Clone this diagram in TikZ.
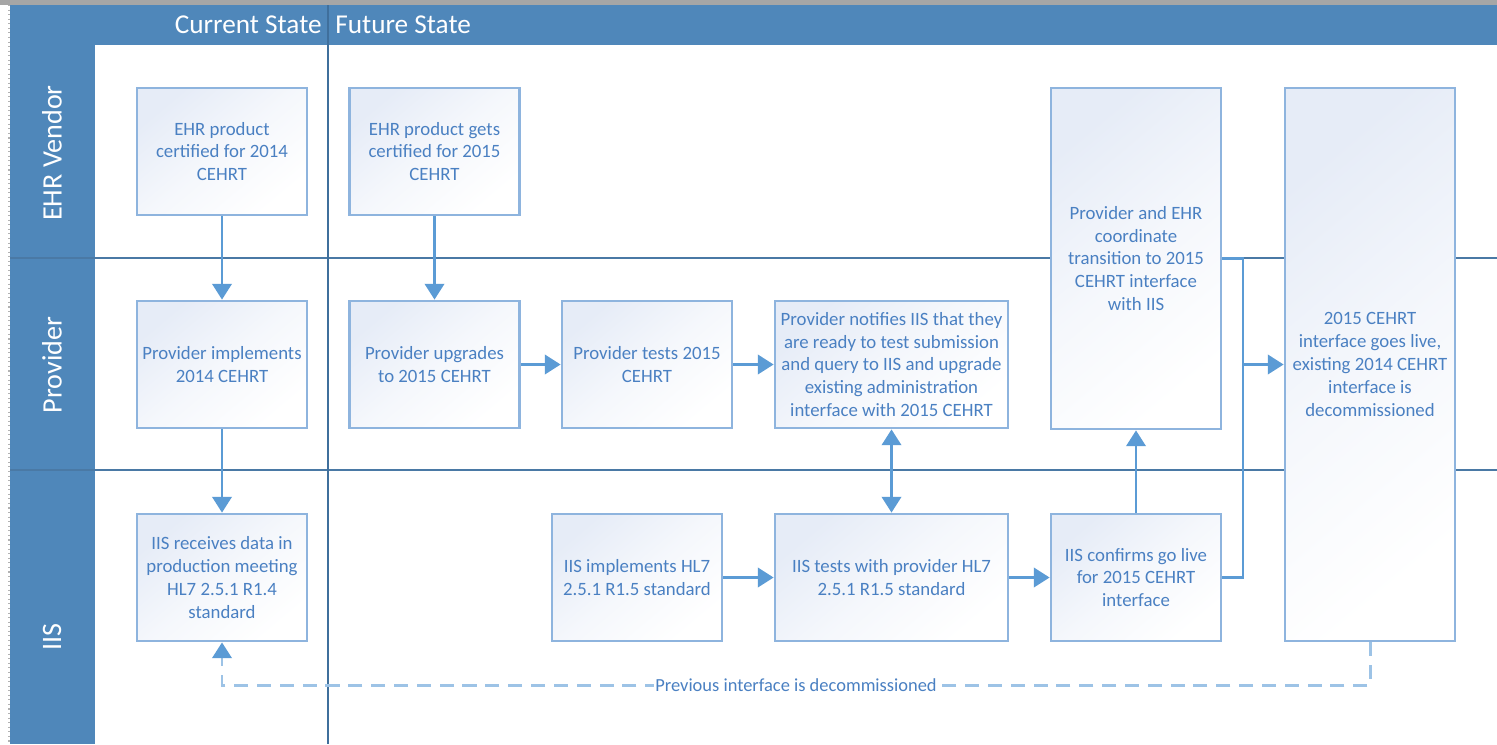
\documentclass[tikz,border=0pt]{standalone}
\usepackage{fontspec}
\setmainfont{Carlito}
\usetikzlibrary{arrows.meta}
\definecolor{headblue}{HTML}{4F87BA}
\definecolor{laneline}{HTML}{4A79A5}
\definecolor{divline}{HTML}{3F6F9C}
\definecolor{arrowblue}{HTML}{5B9BD5}
\definecolor{boxline}{HTML}{8EB4DE}
\definecolor{boxtop}{HTML}{E6ECF7}
\definecolor{textblue}{HTML}{4A80C2}
\definecolor{dashblue}{HTML}{9DC3E6}

\begin{document}
\begin{tikzpicture}[x=0.02cm,y=-0.02cm,
  box/.style={draw=boxline,line width=1.6pt,top color=boxtop,bottom color=white,middle color=white!60!boxtop,shading angle=40,
    text=textblue,align=center,font=\fontsize{10.7}{13}\selectfont,
    minimum width=3.4cm,minimum height=2.54cm,inner sep=2pt},
  widebox/.style={box,minimum width=4.66cm},
  flow/.style={draw=arrowblue,line width=1.6pt,-{Triangle[width=11pt,length=9pt]}},
  twoway/.style={draw=arrowblue,line width=1.6pt,{Triangle[width=11pt,length=9pt]}-{Triangle[width=11pt,length=9pt]}},
  joint/.style={draw=arrowblue,line width=1.6pt},
  retire/.style={draw=dashblue,line width=1.7pt,dash pattern=on 8pt off 5pt,
    -{Triangle[width=11pt,length=9pt,color=arrowblue,fill=arrowblue]}},
  lanename/.style={rotate=90,text=white,font=\fontsize{16}{19}\selectfont},
  statename/.style={text=white,font=\fontsize{15.5}{18}\selectfont,inner sep=0pt}]
\useasboundingbox (0,0) rectangle (1497,744);
\fill[white] (0,0) rectangle (1497,744);

% frame, header and lanes
\fill[gray!70] (0,0) rectangle (1497,5);
\draw[gray!60,line width=0.6pt,dotted] (9,5) -- (9,744);
\fill[headblue] (10,5) rectangle (1497,45);
\fill[headblue] (10,45) rectangle (95,744);
\draw[laneline,line width=1.5pt] (10,258) -- (1497,258);
\draw[laneline,line width=1.5pt] (10,470) -- (1497,470);
\draw[divline,line width=0.8pt] (328,5) -- (328,744);
\node[statename,anchor=east] (cur) at (322,25) {Current State};
\node[statename,anchor=west] (fut) at (335,25) {Future State};
\node[lanename] (ehr) at (52,153) {EHR Vendor};
\node[lanename] (prov) at (52,365) {Provider};
\node[lanename] (iis) at (52,637) {IIS};

% EHR vendor
\node[box] (a1) at (222,151.5) {EHR product\\certified for 2014\\CEHRT};
\node[box] (a2) at (434.5,151.5) {EHR product gets\\certified for 2015\\CEHRT};

% provider
\node[box] (b1) at (222,364.5) {Provider implements\\2014 CEHRT};
\node[box] (b2) at (434.5,364.5) {Provider upgrades\\to 2015 CEHRT};
\node[box] (b3) at (647,364.5) {Provider tests 2015\\CEHRT};
\node[widebox] (b4) at (891.5,364.5) {Provider notifies IIS that they\\are ready to test submission\\and query to IIS and upgrade\\existing administration\\interface with 2015 CEHRT};
\node[box,minimum height=6.82cm] (b5) at (1136,258.5) {Provider and EHR\\coordinate\\transition to 2015\\CEHRT interface\\with IIS};
\node[box,minimum height=11.06cm] (b6) at (1370,364.5) {2015 CEHRT\\interface goes live,\\existing 2014 CEHRT\\interface is\\decommissioned};

% IIS
\node[box] (c1) at (222,577.5) {IIS receives data in\\production meeting\\HL7 2.5.1 R1.4\\standard};
\node[box] (c2) at (637,577.5) {IIS implements HL7\\2.5.1 R1.5 standard};
\node[widebox] (c3) at (891.5,577.5) {IIS tests with provider HL7\\2.5.1 R1.5 standard};
\node[box] (c4) at (1136,577.5) {IIS confirms go live\\for 2015 CEHRT\\interface};

% connectors
\draw[flow] (a1) -- (b1);
\draw[flow] (b1) -- (c1);
\draw[flow] (a2) -- (b2);
\draw[flow] (b2) -- (b3);
\draw[flow] (b3) -- (b4);
\draw[twoway] (b4) -- (c3);
\draw[flow] (c2) -- (c3);
\draw[flow] (c3) -- (c4);
\draw[flow] (c4) -- (b5);
\coordinate (merge) at (1243,364.5);
\draw[joint] (b5.east) -| (merge) |- (c4.east);
\draw[flow] (merge) -- (b6.west);
\draw[retire] (b6.south) -- ++(0,43) -| node[pos=0.25,fill=white,text=textblue,inner sep=1pt,font=\fontsize{10.5}{12}\selectfont] (note) {Previous interface is decommissioned} (c1.south);
\end{tikzpicture}
\end{document}
